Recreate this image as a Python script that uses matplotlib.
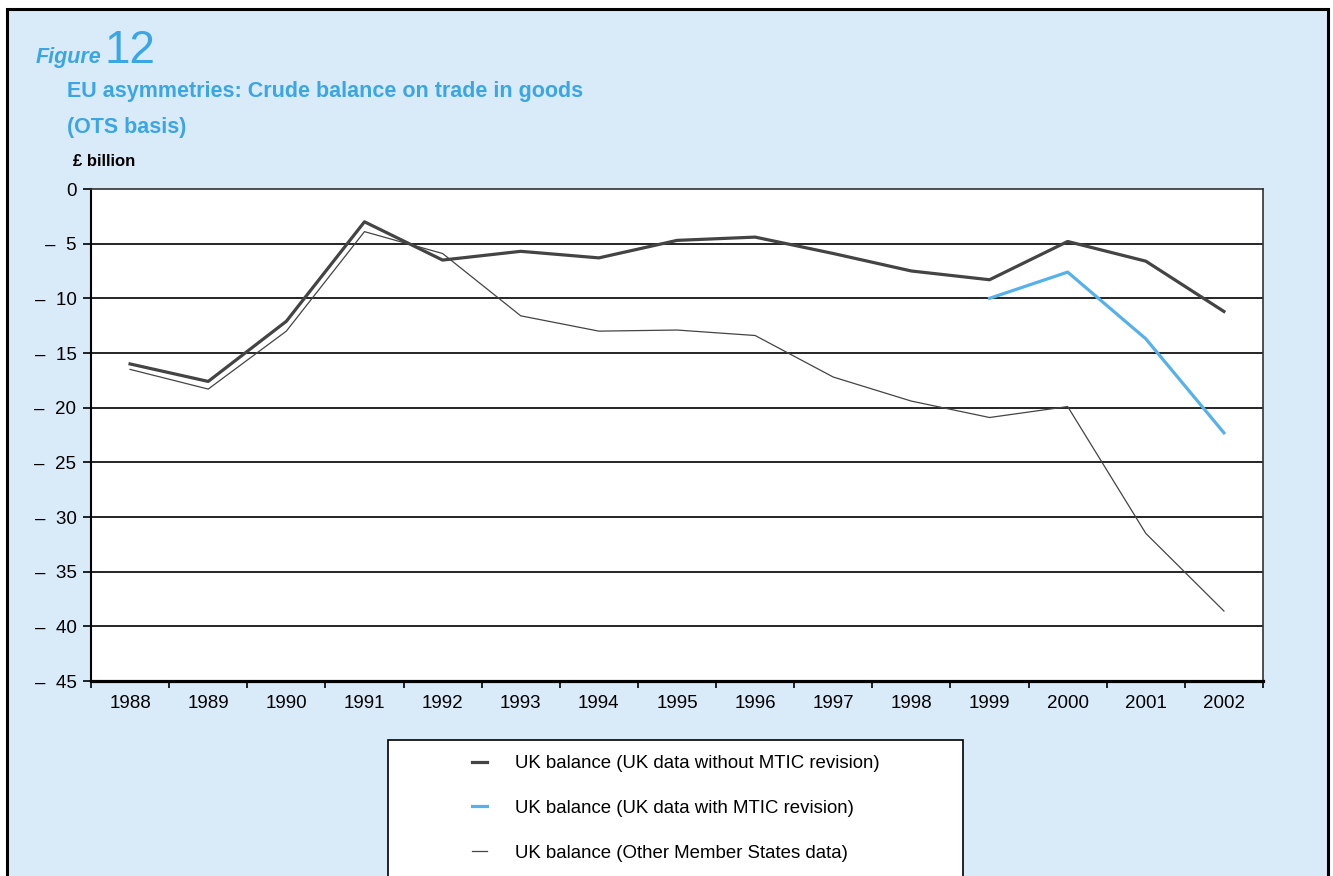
import matplotlib
matplotlib.use("Agg")
import matplotlib.pyplot as plt
from matplotlib.patches import Rectangle

# ── Data (£ billion) ─────────────────────────────────────────────────────────
years = ["1988", "1989", "1990", "1991", "1992", "1993", "1994", "1995",
         "1996", "1997", "1998", "1999", "2000", "2001", "2002"]
uk_without_mtic = [-16.0, -17.6, -12.1, -3.0, -6.5, -5.7, -6.3, -4.7,
                   -4.4, -5.9, -7.5, -8.3, -4.8, -6.6, -11.2]
uk_with_mtic_years = ["1999", "2000", "2001", "2002"]
uk_with_mtic = [-10.0, -7.6, -13.7, -22.3]
other_ms = [-16.5, -18.3, -13.0, -3.9, -5.9, -11.6, -13.0, -12.9,
            -13.4, -17.2, -19.4, -20.9, -19.9, -31.5, -38.6]
y_ticks = [0, -5, -10, -15, -20, -25, -30, -35, -40, -45]
labels = ["UK balance (UK data without MTIC revision)",
          "UK balance (UK data with MTIC revision)",
          "UK balance (Other Member States data)"]

# ── Style ─────────────────────────────────────────────────────────────────────
W, H = 1333, 876
bg_blue = "#d9eaf8"
title_blue = "#3ba6e4"
line_blue = "#56b1ea"
dark = "#444444"
plt.rcParams["font.family"] = ["Liberation Sans", "DejaVu Sans"]


def fx(px):
    return px / W


def fy(py):
    return 1 - py / H


fig = plt.figure(figsize=(W / 100, H / 100), dpi=100, facecolor="white")

# outer panel
fig.patches.append(Rectangle((fx(7), fy(900)), fx(1328) - fx(7), fy(9) - fy(900),
                             transform=fig.transFigure, facecolor=bg_blue,
                             edgecolor="black", linewidth=2.2, zorder=-10))

# titles
fig.text(fx(36), fy(63), "Figure", fontsize=15.5, fontweight="bold",
         fontstyle="italic", color=title_blue, ha="left", va="baseline")
fig.text(fx(104), fy(63), "12", fontsize=33, fontweight="light",
         color=title_blue, ha="left", va="baseline")
fig.text(fx(67), fy(97), "EU asymmetries: Crude balance on trade in goods",
         fontsize=15.5, fontweight="bold", color=title_blue,
         ha="left", va="baseline")
fig.text(fx(67), fy(133), "(OTS basis)", fontsize=15.5,
         fontweight="bold", color=title_blue, ha="left", va="baseline")
fig.text(fx(73), fy(166), "£ billion", fontsize=12, fontweight="bold",
         color="black", ha="left", va="baseline")

# ── Axes ──────────────────────────────────────────────────────────────────────
ax = fig.add_axes([fx(91), fy(681), fx(1263) - fx(91), fy(189) - fy(681)])
ax.set_facecolor("white")

x = list(range(len(years)))
x_mtic = [years.index(y) for y in uk_with_mtic_years]

l1, = ax.plot(x, uk_without_mtic, color=dark, lw=2.3, zorder=4)
l2, = ax.plot(x_mtic, uk_with_mtic, color=line_blue, lw=2.3, zorder=5)
l3, = ax.plot(x, other_ms, color=dark, lw=0.9, zorder=3)

ax.set_xlim(-0.5, len(years) - 0.5)
ax.set_ylim(-45, 0)

ax.set_yticks(y_ticks)
ax.set_yticklabels(["0"] + [f"–  {abs(v)}" for v in y_ticks[1:]], fontsize=13.5)
ax.tick_params(axis="y", direction="out", length=5.5, width=1.2, pad=5)

ax.set_xticks(x)
ax.set_xticklabels(years, fontsize=13.5)
ax.set_xticks([i - 0.5 for i in range(len(years) + 1)], minor=True)
ax.tick_params(axis="x", which="major", length=0, pad=10)
ax.tick_params(axis="x", which="minor", direction="out", length=5, width=1.2)

for v in y_ticks[1:-1]:
    ax.axhline(v, color="black", lw=1.2, zorder=1)

ax.spines["left"].set_linewidth(1.5)
ax.spines["bottom"].set_linewidth(2.3)
ax.spines["top"].set_linewidth(1.2)
ax.spines["top"].set_color("#333333")
ax.spines["right"].set_linewidth(1.2)
ax.spines["right"].set_color("#333333")

# ── Legend ────────────────────────────────────────────────────────────────────
fig.patches.append(Rectangle((fx(388), fy(900)), fx(963) - fx(388), fy(740) - fy(900),
                             transform=fig.transFigure, facecolor="white",
                             edgecolor="black", linewidth=1.2, zorder=1))
leg = fig.legend([l1, l2, l3], labels, loc="upper left",
                 bbox_to_anchor=(fx(472), fy(755)), frameon=False,
                 fontsize=13.4, handlelength=0.8, handletextpad=1.5,
                 labelspacing=1.5, borderpad=0, borderaxespad=0)
leg.set_zorder(5)

fig.savefig("out.png", dpi=100, facecolor="white")
